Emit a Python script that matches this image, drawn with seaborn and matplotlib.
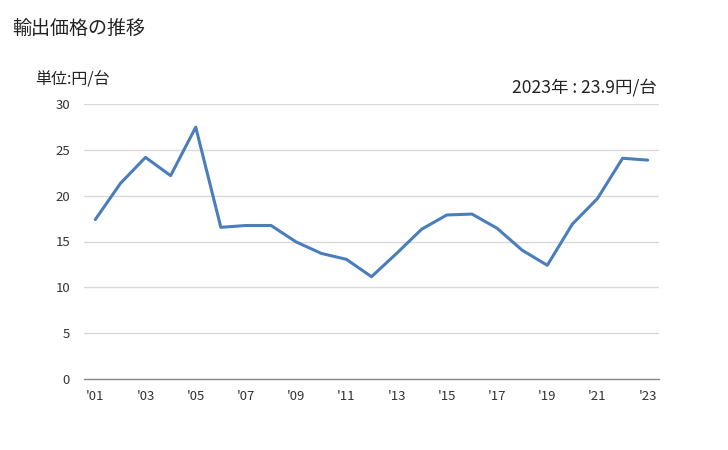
import matplotlib
matplotlib.use("Agg")
import matplotlib.pyplot as plt
import seaborn as sns
import pandas as pd

years = list(range(2001, 2024))
values = [17.4, 21.35, 24.2, 22.2, 27.5, 16.55, 16.75, 16.75, 14.95, 13.7, 13.05, 11.15,
          13.7, 16.35, 17.9, 18.0, 16.45, 14.05, 12.4, 16.9, 19.7, 24.1, 23.9]
tick_years = list(range(2001, 2024, 2))
tick_labels = ["'" + str(y)[2:] for y in tick_years]
yticks = [0, 5, 10, 15, 20, 25, 30]

title = "輸出価格の推移"
unit = "単位:円/台"
note = "2023年 : 23.9円/台"

sns.set_theme(style="white")
plt.rcParams['font.family'] = ['Noto Sans CJK JP', 'DejaVu Sans']

df = pd.DataFrame({"year": years, "value": values})

fig = plt.figure(figsize=(7.28, 4.5), dpi=100)
ax = fig.add_axes([84/728, (450-378.7)/450, (659-84)/728, (378.7-104.3)/450])
sns.lineplot(data=df, x="year", y="value", ax=ax, color="#4a7ebb", linewidth=2.2)

ax.set_xlim(2000.55, 2023.45)
ax.set_ylim(0, 30)
ax.set_yticks(yticks)
ax.set_xticks(tick_years)
ax.set_xticklabels(tick_labels)
ax.set_xlabel("")
ax.set_ylabel("")
ax.grid(axis="y", color="#d9d9d9", linewidth=1.0)
ax.set_axisbelow(True)
for s in ["top", "right", "left"]:
    ax.spines[s].set_visible(False)
ax.spines["bottom"].set_color("#888888")
ax.spines["bottom"].set_linewidth(1.0)
ax.tick_params(axis="both", length=0, labelsize=9.5, colors="#333333")
ax.tick_params(axis="y", pad=10)
ax.tick_params(axis="x", pad=8)
for lbl in ax.get_yticklabels():
    lbl.set_horizontalalignment("right")

fig.text(12/728, 1 - 29/450, title, fontsize=13.7, va="center", ha="left", color="#222222")
fig.text(35/728, 1 - 80/450, unit, fontsize=11.5, va="center", ha="left", color="#222222")
fig.text(657/728, 1 - 87/450, note, fontsize=12.6, va="center", ha="right", color="#222222")

fig.savefig("out.png", dpi=100)
